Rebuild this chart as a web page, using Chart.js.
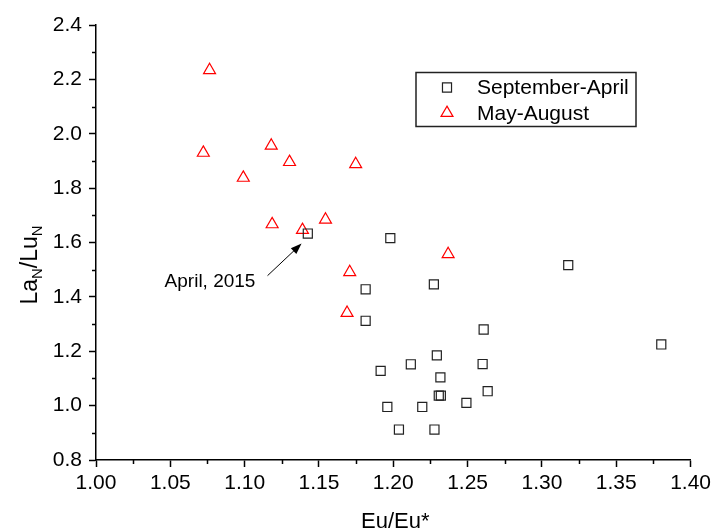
<!DOCTYPE html>
<html>
<head>
<meta charset="utf-8">
<script src="https://cdn.jsdelivr.net/npm/chart.js@4"></script>
<style>
  html, body { margin: 0; padding: 0; background: #fff; }
  canvas { display: block; }
</style>
</head>
<body>
<canvas id="euChart" width="715" height="531"></canvas>
<script>
// Eu anomaly vs. La/Lu ratio, two sampling periods
const sepAprX = [1.1425, 1.198, 1.3177, 1.1814, 1.2273, 1.1814, 1.2608, 1.3803, 1.2293, 1.2118, 1.2601,
                 1.1915, 1.2317, 1.2635, 1.2306, 1.2320, 1.2492, 1.196, 1.2195, 1.2038, 1.2277];
const sepAprY = [1.633, 1.616, 1.517, 1.428, 1.446, 1.312, 1.280, 1.225, 1.185, 1.152, 1.153,
                 1.128, 1.104, 1.053, 1.037, 1.037, 1.010, 0.995, 0.995, 0.912, 0.912];

const mayAugX = [1.0764, 1.0722, 1.0991, 1.1179, 1.1302, 1.1185, 1.1389, 1.1544, 1.1747, 1.1707, 1.1689, 1.2369];
const mayAugY = [2.234, 1.930, 1.838, 1.956, 1.896, 1.667, 1.646, 1.684, 1.888, 1.491, 1.341, 1.557];

const xTickValues = [1.00, 1.05, 1.10, 1.15, 1.20, 1.25, 1.30, 1.35, 1.40];
const yTickValues = [0.8, 1.0, 1.2, 1.4, 1.6, 1.8, 2.0, 2.2, 2.4];

const seriesNames = ['September-April', 'May-August'];

// note pointing at the April 2015 sample
const noteText = 'April, 2015';
const noteAt = [1.0767, 1.454];
const arrowFrom = [1.1154, 1.478];
const arrowTo = [1.1383, 1.596];

const FONT = '"Liberation Sans", Arial, sans-serif';

const toPoints = (xs, ys) => xs.map((x, i) => ({ x: x, y: ys[i] }));

// minor ticks halfway between the major ones, legend box, note and axis titles
const decorations = {
    id: 'decorations',
    afterDraw(chart) {
        const ctx = chart.ctx;
        const xs = chart.scales.x;
        const ys = chart.scales.y;
        const area = chart.chartArea;

        ctx.save();
        ctx.strokeStyle = '#000';
        ctx.lineWidth = 1.5;
        ctx.beginPath();
        for (let i = 0; i < xTickValues.length - 1; i++) {
            const px = Math.round(xs.getPixelForValue((xTickValues[i] + xTickValues[i + 1]) / 2)) + 0.5;
            ctx.moveTo(px, area.bottom);
            ctx.lineTo(px, area.bottom + 4);
        }
        for (let i = 0; i < yTickValues.length - 1; i++) {
            const py = Math.round(ys.getPixelForValue((yTickValues[i] + yTickValues[i + 1]) / 2)) + 0.5;
            ctx.moveTo(area.left, py);
            ctx.lineTo(area.left - 4, py);
        }
        ctx.stroke();

        // legend
        const lx = 416, ly = 72.5, lw = 220, lh = 54;
        ctx.lineWidth = 1.5;
        ctx.strokeStyle = '#222';
        ctx.strokeRect(lx, ly, lw, lh);
        ctx.font = '21px ' + FONT;
        ctx.textBaseline = 'middle';
        ctx.textAlign = 'left';
        chart.data.datasets.forEach((ds, i) => {
            const cy = ly + 15 + i * 25.5;
            ctx.lineWidth = 1.2;
            ctx.strokeStyle = ds.borderColor;
            ctx.fillStyle = 'rgba(0,0,0,0)';
            Chart.helpers.drawPoint(ctx, { pointStyle: ds.pointStyle, radius: ds.pointRadius, rotation: 0, borderWidth: 1.2 }, lx + 31, cy);
            ctx.fillStyle = '#000';
            ctx.fillText(ds.label, lx + 61, cy + 1);
        });

        // note with arrow
        ctx.font = '19px ' + FONT;
        ctx.textAlign = 'center';
        ctx.fillText(noteText, xs.getPixelForValue(noteAt[0]), ys.getPixelForValue(noteAt[1]));
        const x0 = xs.getPixelForValue(arrowFrom[0]), y0 = ys.getPixelForValue(arrowFrom[1]);
        const x1 = xs.getPixelForValue(arrowTo[0]), y1 = ys.getPixelForValue(arrowTo[1]);
        const ang = Math.atan2(y1 - y0, x1 - x0);
        ctx.strokeStyle = '#000';
        ctx.lineWidth = 1;
        ctx.beginPath();
        ctx.moveTo(x0, y0);
        ctx.lineTo(x1 - 8 * Math.cos(ang), y1 - 8 * Math.sin(ang));
        ctx.stroke();
        ctx.beginPath();
        ctx.moveTo(x1, y1);
        ctx.lineTo(x1 - 11 * Math.cos(ang) + 4 * Math.sin(ang), y1 - 11 * Math.sin(ang) - 4 * Math.cos(ang));
        ctx.lineTo(x1 - 11 * Math.cos(ang) - 4 * Math.sin(ang), y1 - 11 * Math.sin(ang) + 4 * Math.cos(ang));
        ctx.closePath();
        ctx.fillStyle = '#000';
        ctx.fill();

        // x axis title
        ctx.font = '22px ' + FONT;
        ctx.textAlign = 'center';
        ctx.textBaseline = 'alphabetic';
        ctx.fillText('Eu/Eu*', (area.left + area.right) / 2 + 2, 528);

        // y axis title with subscripts
        ctx.translate(37, 265);
        ctx.rotate(-Math.PI / 2);
        const parts = [['La', false], ['N', true], ['/Lu', false], ['N', true]];
        let total = 0;
        parts.forEach(p => {
            ctx.font = (p[1] ? '15px ' : '23px ') + FONT;
            total += ctx.measureText(p[0]).width;
        });
        let cx = -total / 2;
        ctx.textAlign = 'left';
        parts.forEach(p => {
            ctx.font = (p[1] ? '15px ' : '23px ') + FONT;
            ctx.fillText(p[0], cx, p[1] ? 5 : 0);
            cx += ctx.measureText(p[0]).width;
        });
        ctx.restore();
    }
};

new Chart(document.getElementById('euChart'), {
    type: 'scatter',
    data: {
        datasets: [
            {
                label: seriesNames[0],
                data: toPoints(sepAprX, sepAprY),
                pointStyle: 'rect',
                pointRadius: 6.4,
                borderColor: '#222',
                backgroundColor: 'rgba(0,0,0,0)',
                borderWidth: 1.2
            },
            {
                label: seriesNames[1],
                data: toPoints(mayAugX, mayAugY),
                pointStyle: 'triangle',
                pointRadius: 6.9,
                borderColor: '#ff0000',
                backgroundColor: 'rgba(0,0,0,0)',
                borderWidth: 1.2
            }
        ]
    },
    options: {
        responsive: false,
        animation: false,
        layout: { padding: { left: 0, top: 25, right: 23, bottom: 0 } },
        plugins: { legend: { display: false }, tooltip: { enabled: false } },
        scales: {
            x: {
                type: 'linear',
                min: xTickValues[0],
                max: xTickValues[xTickValues.length - 1],
                afterBuildTicks: s => { s.ticks = xTickValues.map(v => ({ value: v })); },
                afterFit: s => { s.height = 71; },
                grid: { drawOnChartArea: false, tickLength: 7, tickColor: '#000', tickWidth: 1.5 },
                border: { color: '#000', width: 1.5 },
                ticks: {
                    color: '#000',
                    padding: 4,
                    maxRotation: 0,
                    autoSkip: false,
                    font: { family: FONT, size: 21 },
                    callback: v => v.toFixed(2)
                }
            },
            y: {
                type: 'linear',
                min: yTickValues[0],
                max: yTickValues[yTickValues.length - 1],
                afterBuildTicks: s => { s.ticks = yTickValues.map(v => ({ value: v })); },
                afterFit: s => { s.width = 96; },
                grid: { drawOnChartArea: false, tickLength: 7, tickColor: '#000', tickWidth: 1.5 },
                border: { color: '#000', width: 1.5 },
                ticks: {
                    color: '#000',
                    padding: 7,
                    autoSkip: false,
                    font: { family: FONT, size: 21 },
                    callback: v => v.toFixed(1)
                }
            }
        }
    },
    plugins: [decorations]
});
</script>
</body>
</html>
